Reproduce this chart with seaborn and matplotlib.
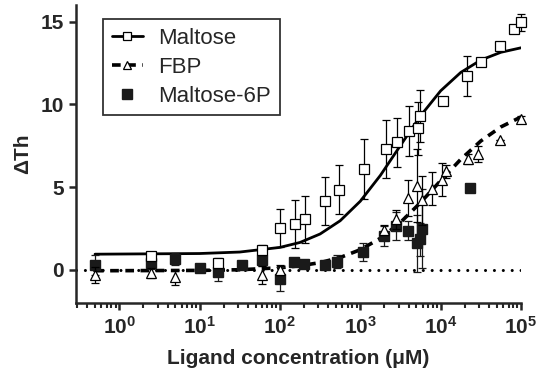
import numpy as np
import pandas as pd
import matplotlib
matplotlib.use("Agg")
import matplotlib.pyplot as plt
from matplotlib.lines import Line2D
from matplotlib.ticker import LogLocator, FuncFormatter, NullFormatter
import seaborn as sns

# measured points (concentration in uM, delta Th, SEM)
maltose_conc = [2.5, 17, 59, 100, 155, 205, 365, 540, 1100, 2100, 2900,
                4000, 5200, 5500, 10700, 21000, 31600, 55000, 83000, 100000]
maltose_dth = [0.85, 0.4, 1.2, 2.55, 2.75, 3.05, 4.15, 4.85, 6.1, 7.3, 7.7,
               8.4, 8.55, 9.3, 10.2, 11.7, 12.55, 13.5, 14.55, 14.95]
maltose_err = [0.25, 0.3, 0.3, 1.15, 1.45, 1.4, 1.45, 1.5, 1.8, 1.75, 1.5,
               1.5, 1.6, 1.6, 0, 1.2, 0, 0, 0, 0.5]

fbp_conc = [0.5, 2.5, 5, 59, 100, 2000, 2750, 3900, 5100, 5900, 7900, 10500,
            11700, 22000, 29000, 55000, 100000]
fbp_dth = [-0.3, -0.2, -0.45, -0.3, 0.0, 2.4, 3.05, 4.35, 5.1, 4.2, 4.9, 5.45,
           5.95, 6.7, 7.0, 7.85, 9.1]
fbp_err = [0.5, 0.3, 0.45, 0.55, 0.3, 0.3, 0.6, 1.1, 2.2, 1.5, 1.0, 1.0,
           0.4, 0.3, 0.5, 0, 0.2]

m6p_conc = [0.5, 2.5, 5, 10, 17, 34, 59, 100, 150, 200, 360, 520, 1070, 2000,
            2750, 3900, 5100, 5600, 5900, 23500]
m6p_dth = [0.3, 0.4, 0.65, 0.12, -0.15, 0.3, 0.6, -0.55, 0.5, 0.35, 0.28, 0.5,
           1.1, 2.05, 2.65, 2.38, 1.6, 1.85, 2.5, 4.95]
m6p_err = [0.6, 0.35, 0.35, 0.2, 0.5, 0.15, 0.35, 0.72, 0.2, 0.1, 0.2, 0.4,
           0.55, 0.6, 0.85, 0.57, 1.7, 1.0, 2.4, 0]

# fitted curves
fit_conc = [0.5, 10, 31.6, 100, 178, 316, 562, 1000, 1778, 3162, 5623,
            10000, 17783, 31623, 56234, 100000]
maltose_fit = [0.95, 0.99, 1.08, 1.36, 1.66, 2.17, 2.97, 4.15, 5.71, 7.52, 9.31,
               10.82, 11.93, 12.68, 13.15, 13.42]
fbp_fit = [-0.05, -0.03, 0.01, 0.13, 0.25, 0.44, 0.75, 1.22, 1.91, 2.87, 4.07,
           5.39, 6.68, 7.79, 8.64, 9.24]

zero_line = [0.29, 100000]

sns.set_style("ticks")
plt.rcParams['font.family'] = ['Liberation Sans', 'DejaVu Sans']
plt.rcParams['mathtext.fontset'] = 'custom'
plt.rcParams['mathtext.rm'] = 'Liberation Sans'
plt.rcParams['mathtext.bf'] = 'Liberation Sans:bold'
plt.rcParams['mathtext.default'] = 'bf'

fig = plt.figure(figsize=(5.41, 3.79), dpi=100)
ax = fig.add_axes([0.1405, 0.2005, 0.8225, 0.786])

curves = pd.DataFrame({"conc": fit_conc, "maltose": maltose_fit, "fbp": fbp_fit})

# zero reference line
ax.plot(zero_line, [0, 0], color='k', lw=2.2, linestyle=(0, (0.01, 2.9)),
        dash_capstyle='round', zorder=1)

sns.lineplot(data=curves, x="conc", y="maltose", color='k', lw=2.0,
             sort=False, ax=ax, zorder=2)
sns.lineplot(data=curves, x="conc", y="fbp", color='k', lw=2.6,
             linestyle=(0, (2.4, 1.8)), sort=False, ax=ax, zorder=2)

ax.errorbar(m6p_conc, m6p_dth, yerr=m6p_err, fmt='s', ms=6.5, mfc='#1a1a1a',
            mec='#1a1a1a', ecolor='#1a1a1a', elinewidth=0.9, capsize=3,
            capthick=0.9, zorder=3, clip_on=False)
ax.errorbar(fbp_conc, fbp_dth, yerr=fbp_err, fmt='^', ms=7, mfc='white',
            mec='k', mew=0.9, ecolor='k', elinewidth=0.9, capsize=3,
            capthick=0.9, zorder=4, clip_on=False)
ax.errorbar(maltose_conc, maltose_dth, yerr=maltose_err, fmt='s', ms=7,
            mfc='white', mec='k', mew=0.9, ecolor='k', elinewidth=0.9,
            capsize=3, capthick=0.9, zorder=5, clip_on=False)

ax.set_xscale('log')
ax.set_xlim(0.29, 100000)
ax.set_ylim(-2, 16)
ax.set_yticks([0, 5, 10, 15])
ax.xaxis.set_major_locator(LogLocator(base=10, numticks=10))
ax.xaxis.set_minor_locator(LogLocator(base=10, subs=np.arange(2, 10), numticks=20))
ax.xaxis.set_major_formatter(FuncFormatter(lambda v, p: r'$10^{%d}$' % round(np.log10(v))))
ax.xaxis.set_minor_formatter(NullFormatter())

for s in ['top', 'right']:
    ax.spines[s].set_visible(False)
for s in ['left', 'bottom']:
    ax.spines[s].set_linewidth(1.8)
ax.tick_params(axis='both', which='major', length=5, width=1.8, direction='out',
               labelsize=15)
ax.tick_params(axis='x', which='minor', length=3.5, width=1.5, direction='out')
for lab in ax.get_yticklabels():
    lab.set_fontweight('bold')
ax.tick_params(axis='x', pad=4)

ax.set_xlabel("Ligand concentration (μM)", fontsize=15, fontweight='bold', labelpad=8)
ax.set_ylabel("ΔTh", fontsize=15, fontweight='bold', labelpad=6)

handles = [
    Line2D([], [], color='k', lw=2.0, marker='s', ms=6, mfc='white', mec='k', mew=0.9),
    Line2D([], [], color='k', lw=2.6, linestyle=(0, (2.4, 1.8)), marker='^', ms=6,
           mfc='white', mec='k', mew=0.9),
    Line2D([], [], color='none', marker='s', ms=6.5, mfc='#1a1a1a', mec='#1a1a1a'),
]
leg = ax.legend(handles, ["Maltose", "FBP", "Maltose-6P"], loc='upper left',
                bbox_to_anchor=(0.06, 0.953), borderaxespad=0, fontsize=16,
                frameon=True, fancybox=False, edgecolor='k', handlelength=1.4,
                borderpad=0.4, labelspacing=0.35, handletextpad=0.7)
leg.get_frame().set_linewidth(1.3)

fig.savefig("out.png", dpi=100)
